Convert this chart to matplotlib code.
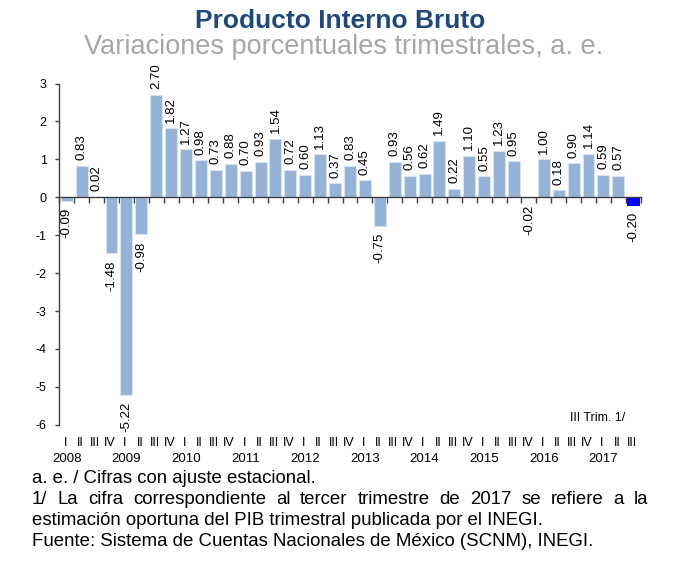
import matplotlib
matplotlib.use("Agg")
import matplotlib.pyplot as plt
import matplotlib.transforms as mtransforms

plt.rcParams['font.family'] = ['Liberation Sans', 'DejaVu Sans']

# ---------------- data ----------------
years = ["2008", "2009", "2010", "2011", "2012", "2013", "2014", "2015", "2016", "2017"]
quarters = ["I", "II", "III", "IV"]
values = [-0.09, 0.83, 0.02, -1.48,
          -5.22, -0.98, 2.70, 1.82,
          1.27, 0.98, 0.73, 0.88,
          0.70, 0.93, 1.54, 0.72,
          0.60, 1.13, 0.37, 0.83,
          0.45, -0.75, 0.93, 0.56,
          0.62, 1.49, 0.22, 1.10,
          0.55, 1.23, 0.95, -0.02,
          1.00, 0.18, 0.90, 1.14,
          0.59, 0.57, -0.20]
value_labels = [f"{v:.2f}" for v in values]
quarter_labels = [quarters[i % 4] for i in range(len(values))]
yticks = [3, 2, 1, 0, -1, -2, -3, -4, -5, -6]

title = "Producto Interno Bruto"
subtitle = "Variaciones porcentuales trimestrales, a. e."
note_trim = "III Trim. 1/"
foot1 = "a. e. / Cifras con ajuste estacional."
foot2 = "1/ La cifra correspondiente al tercer trimestre de 2017 se refiere a la"
foot3 = "estimación oportuna del PIB trimestral publicada por el INEGI."
foot4 = "Fuente: Sistema de Cuentas Nacionales de México (SCNM), INEGI."

# ---------------- figure ----------------
W, H = 677, 561
fig = plt.figure(figsize=(W / 100, H / 100), dpi=100)
fig.patch.set_facecolor("white")

def fx(px):
    return px / W

def fy(py):
    return 1 - py / H

ax = fig.add_axes([fx(59.3), fy(424.8), fx(640.7) - fx(59.3), fy(83.5) - fy(424.8)])

n = len(values)
xs = list(range(n))
colors = ["#95B3D7"] * (n - 1) + ["#0000FF"]
edges = ["#D6E2F0"] * (n - 1) + ["#0000FF"]
ax.bar(xs, values, width=0.8, color=colors, edgecolor=edges, linewidth=0.8, zorder=2)

ax.set_xlim(-0.5, n - 0.5)
ax.set_ylim(-6, 3)

# spines
for s in ["top", "right"]:
    ax.spines[s].set_visible(False)
ax.spines["left"].set_color("#404040")
ax.spines["left"].set_linewidth(1.0)
ax.spines["bottom"].set_position(("data", 0))
ax.spines["bottom"].set_color("#404040")
ax.spines["bottom"].set_linewidth(1.0)
ax.spines["bottom"].set_zorder(3)

ax.set_yticks(yticks)
ax.set_yticklabels([str(t) for t in yticks], fontsize=9)
ax.tick_params(axis="y", direction="out", length=3, width=1, color="#404040", pad=6)

ax.set_xticks([i + 0.5 for i in range(n - 1)] + [-0.5, n - 0.5])
ax.set_xticklabels([])
ax.tick_params(axis="x", direction="out", length=4, width=1, color="#404040")

# value labels
for x, v, lab in zip(xs, values, value_labels):
    if v >= 0:
        ax.annotate(lab, (x, v), xytext=(0, 4), textcoords="offset points",
                    rotation=90, ha="center", va="bottom", fontsize=9.5)
    else:
        ax.annotate(lab, (x, v), xytext=(0, -5), textcoords="offset points",
                    rotation=90, ha="center", va="top", fontsize=9.5)

# quarter & year labels
trans = mtransforms.blended_transform_factory(ax.transData, fig.transFigure)
for x, q in zip(xs, quarter_labels):
    ax.text(x - 0.1, fy(445.7), q, transform=trans, ha="center", va="baseline",
            fontsize=9, clip_on=False)
for i, y in enumerate(years):
    ax.text(i * 4, fy(461.7), y, transform=trans, ha="center", va="baseline",
            fontsize=9.5, clip_on=False)

fig.text(fx(570), fy(420.7), note_trim, ha="left", va="baseline", fontsize=9)

# titles
fig.text(fx(340), fy(28.3), title, ha="center", va="baseline", fontsize=19,
         fontweight="bold", color="#1F497D")
fig.text(fx(344), fy(53.5), subtitle, ha="center", va="baseline", fontsize=19.5,
         color="#A6A6A6")

# footnotes
FS = 13.4
fig.text(fx(32), fy(483), foot1, ha="left", va="baseline", fontsize=FS)
fig.text(fx(32), fy(525), foot3, ha="left", va="baseline", fontsize=FS)
fig.text(fx(32), fy(546), foot4, ha="left", va="baseline", fontsize=FS)

# justified line
words = foot2.split()
wtexts = [fig.text(fx(32), fy(504), w, ha="left", va="baseline", fontsize=FS) for w in words]
fig.canvas.draw()
r = fig.canvas.get_renderer()
widths = [t.get_window_extent(r).width for t in wtexts]
x0, x1 = 32, 648.3
gap = (x1 - x0 - sum(widths)) / (len(words) - 1)
cur = x0
for t, w in zip(wtexts, widths):
    t.set_x(fx(cur))
    cur += w + gap

fig.savefig("out.png", dpi=100, facecolor="white")
